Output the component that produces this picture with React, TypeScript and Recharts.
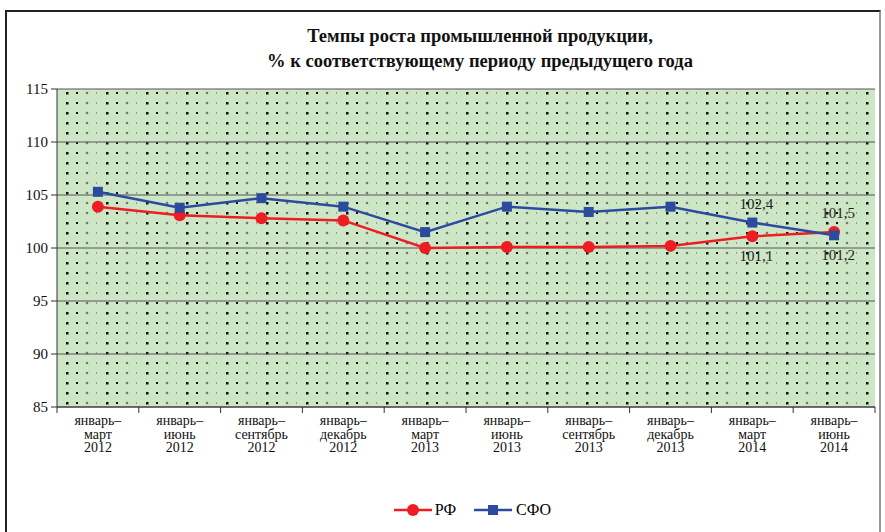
import React from "react";
import { LineChart, Line, XAxis, YAxis, CartesianGrid, LabelList } from "recharts";

const periods = ["март", "июнь", "сентябрь", "декабрь", "март", "июнь", "сентябрь", "декабрь", "март", "июнь"];
const years = ["2012", "2012", "2012", "2012", "2013", "2013", "2013", "2013", "2014", "2014"];
const rf = [103.9, 103.1, 102.8, 102.6, 100.0, 100.1, 100.1, 100.2, 101.1, 101.5];
const sfo = [105.3, 103.8, 104.7, 103.9, 101.5, 103.9, 103.4, 103.9, 102.4, 101.2];
const yTicks = [85, 90, 95, 100, 105, 110, 115];
// indices whose values get printed
const labelled = [8, 9];
const rfLabelPos: Record<number, string> = { 8: "below", 9: "above" };
const sfoLabelPos: Record<number, string> = { 8: "above", 9: "below" };

const data = rf.map((v, i) => ({ i, rf: v, sfo: sfo[i] }));
const xTicks = [-0.5, ...rf.flatMap((_, i) => [i, i + 0.5])];

const FONT = '"Liberation Serif", "Times New Roman", serif';
const RED = "#ee1d23";
const BLUE = "#2c4b9f";

const XTick = ({ x, y, payload }: any) => {
  const v = payload.value;
  if (!Number.isInteger(v)) {
    return <line x1={x} x2={x} y1={y - 8} y2={y - 2} stroke="#333" strokeWidth={1} />;
  }
  return (
    <text x={x} y={y} textAnchor="middle" fontFamily={FONT} fontSize={14} fill="#111">
      <tspan x={x} dy={10}>январь–</tspan>
      <tspan x={x} dy={13.5}>{periods[v]}</tspan>
      <tspan x={x} dy={13.5}>{years[v]}</tspan>
    </text>
  );
};

const makeLabel = (pos: Record<number, string>) => (props: any) => {
  const { x, y, value, index } = props;
  if (!labelled.includes(index)) return null;
  const dy = pos[index] === "above" ? -14 : 25;
  return (
    <text x={x + 4} y={y + dy} textAnchor="middle" fontFamily={FONT} fontSize={15} fill="#222">
      {String(value).replace(".", ",")}
    </text>
  );
};

const Square = ({ cx, cy }: any) => (
  <rect x={cx - 5} y={cy - 5} width={10} height={10} fill={BLUE} />
);

const LegendBox = () => (
  <div style={{ position: "absolute", top: 501, left: 0, width: 885, display: "flex", justifyContent: "center", gap: 18, fontFamily: FONT, fontSize: 16 }}>
    <span style={{ display: "flex", alignItems: "center", gap: 3, marginLeft: 60 }}>
      <svg width={38} height={14}><line x1={0} x2={38} y1={7} y2={7} stroke={RED} strokeWidth={2.5} /><circle cx={19} cy={7} r={6} fill={RED} /></svg>
      РФ
    </span>
    <span style={{ display: "flex", alignItems: "center", gap: 4 }}>
      <svg width={38} height={14}><line x1={0} x2={38} y1={7} y2={7} stroke={BLUE} strokeWidth={2.5} /><rect x={14} y={2} width={10} height={10} fill={BLUE} /></svg>
      СФО
    </span>
  </div>
);

export default function App() {
  return (
    <div style={{ position: "absolute", left: 0, top: 0, width: 885, height: 532, background: "#fff", overflow: "hidden", fontFamily: FONT }}>
      <div style={{ position: "absolute", left: 5, top: 10, width: 872, height: 600, borderLeft: "2px solid #222", borderTop: "2px solid #222", borderRight: "2px solid #999" }} />
      <div style={{ position: "absolute", left: 0, top: 24, width: 960, textAlign: "center", fontFamily: FONT, fontWeight: 700, fontSize: 18.5, lineHeight: "25px", color: "#111" }}>
        Темпы роста промышленной продукции,<br />% к соответствующему периоду предыдущего года
      </div>
      <div style={{ position: "absolute", left: 0, top: 0 }}>
        <LineChart width={885} height={532} data={data} margin={{ top: 89, right: 10, bottom: 65, left: 7 }} style={{ fontFamily: FONT }}>
          <defs>
            <pattern id="dots" width={40} height={10} patternUnits="userSpaceOnUse" x={57} y={89}>
              <rect width={40} height={10} fill="#cde6c5" />
              <rect x={9} y={3} width={2.5} height={2.5} fill="#111" />
              <rect x={19} y={3} width={2} height={2} fill="#111" />
              <circle cx={30} cy={4} r={1.3} fill="#777" />
              <rect x={39} y={3} width={1} height={2} fill="#999" />
            </pattern>
          </defs>
          <CartesianGrid vertical={false} stroke="#555" fill="url(#dots)" fillOpacity={1} />
          <XAxis
            dataKey="i"
            type="number"
            domain={[-0.5, 9.5]}
            ticks={xTicks}
            interval={0}
            tick={<XTick />}
            tickLine={false}
            axisLine={{ stroke: "#333" }}
            height={60}
          />
          <YAxis
            domain={[85, 115]}
            ticks={yTicks}
            width={50}
            tickSize={6}
            tickMargin={3}
            tick={{ fontFamily: FONT, fontSize: 15, fill: "#111" }}
            tickLine={{ stroke: "#333" }}
            axisLine={{ stroke: "#333" }}
          />
          <Line dataKey="rf" stroke={RED} strokeWidth={2.5} dot={{ r: 6, fill: RED, stroke: RED, strokeWidth: 0 }} isAnimationActive={false}>
            <LabelList dataKey="rf" content={makeLabel(rfLabelPos)} />
          </Line>
          <Line dataKey="sfo" stroke={BLUE} strokeWidth={2.5} dot={<Square />} isAnimationActive={false}>
            <LabelList dataKey="sfo" content={makeLabel(sfoLabelPos)} />
          </Line>
        </LineChart>
      </div>
      <LegendBox />
    </div>
  );
}
